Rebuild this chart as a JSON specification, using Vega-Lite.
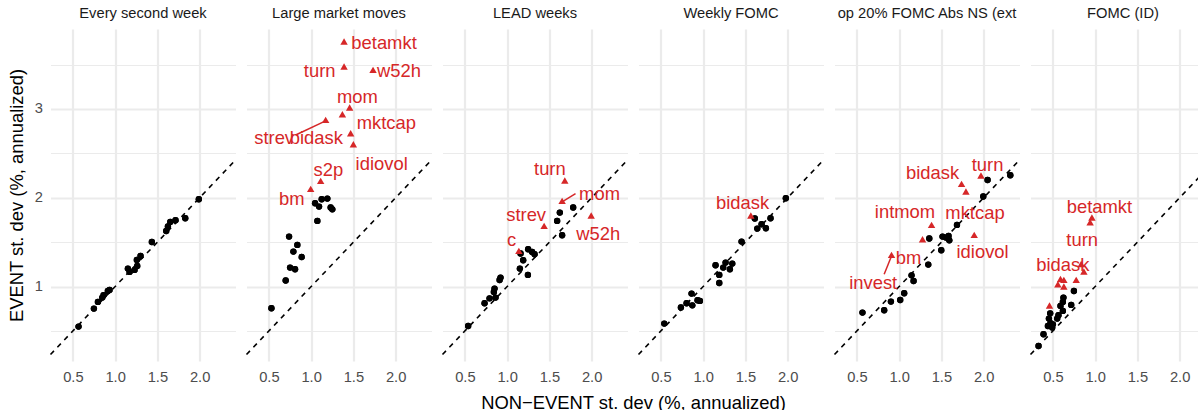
{
  "$schema": "https://vega.github.io/schema/vega-lite/v6.json",
  "background": "white",
  "padding": {"left": 6.5, "top": 6, "right": 0, "bottom": 0},
  "config": {
    "font": "Liberation Sans",
    "view": {"stroke": null},
    "axis": {
      "domain": false,
      "ticks": false,
      "gridColor": "#ebebeb",
      "labelFontSize": 14.7,
      "labelColor": "#4d4d4d",
      "titleFontSize": 18.4,
      "titleFontWeight": "normal",
      "titleColor": "#000000"
    }
  },
  "data": {
    "values": [
      {"panel": "Every second week", "group": "base", "x": 0.567, "y": 0.55},
      {"panel": "Every second week", "group": "base", "x": 0.749, "y": 0.752},
      {"panel": "Every second week", "group": "base", "x": 0.796, "y": 0.827},
      {"panel": "Every second week", "group": "base", "x": 0.848, "y": 0.876},
      {"panel": "Every second week", "group": "base", "x": 0.863, "y": 0.902},
      {"panel": "Every second week", "group": "base", "x": 0.914, "y": 0.95},
      {"panel": "Every second week", "group": "base", "x": 0.934, "y": 0.962},
      {"panel": "Every second week", "group": "base", "x": 1.151, "y": 1.203},
      {"panel": "Every second week", "group": "base", "x": 1.171, "y": 1.165},
      {"panel": "Every second week", "group": "base", "x": 1.23, "y": 1.187},
      {"panel": "Every second week", "group": "base", "x": 1.262, "y": 1.232},
      {"panel": "Every second week", "group": "base", "x": 1.257, "y": 1.3},
      {"panel": "Every second week", "group": "base", "x": 1.301, "y": 1.345},
      {"panel": "Every second week", "group": "base", "x": 1.435, "y": 1.502},
      {"panel": "Every second week", "group": "base", "x": 1.605, "y": 1.626},
      {"panel": "Every second week", "group": "base", "x": 1.625, "y": 1.676},
      {"panel": "Every second week", "group": "base", "x": 1.653, "y": 1.727},
      {"panel": "Every second week", "group": "base", "x": 1.715, "y": 1.747},
      {"panel": "Every second week", "group": "base", "x": 1.83, "y": 1.769},
      {"panel": "Every second week", "group": "base", "x": 1.991, "y": 1.983},

      {"panel": "Large market moves", "group": "base", "x": 0.53, "y": 0.756},
      {"panel": "Large market moves", "group": "base", "x": 0.699, "y": 1.068},
      {"panel": "Large market moves", "group": "base", "x": 0.751, "y": 1.214},
      {"panel": "Large market moves", "group": "base", "x": 0.81, "y": 1.195},
      {"panel": "Large market moves", "group": "base", "x": 0.79, "y": 1.394},
      {"panel": "Large market moves", "group": "base", "x": 0.739, "y": 1.563},
      {"panel": "Large market moves", "group": "base", "x": 0.837, "y": 1.469},
      {"panel": "Large market moves", "group": "base", "x": 0.888, "y": 1.333},
      {"panel": "Large market moves", "group": "base", "x": 1.074, "y": 1.739},
      {"panel": "Large market moves", "group": "base", "x": 1.047, "y": 1.938},
      {"panel": "Large market moves", "group": "base", "x": 1.094, "y": 1.901},
      {"panel": "Large market moves", "group": "base", "x": 1.125, "y": 1.983},
      {"panel": "Large market moves", "group": "base", "x": 1.192, "y": 1.991},
      {"panel": "Large market moves", "group": "base", "x": 1.231, "y": 1.89},
      {"panel": "Large market moves", "group": "base", "x": 1.251, "y": 1.87},
      {"panel": "Large market moves", "group": "flag", "x": 0.995, "y": 2.088, "name": "bm", "lx": 0.77, "ly": 1.983},
      {"panel": "Large market moves", "group": "flag", "x": 1.113, "y": 2.178, "name": "s2p", "lx": 1.204, "ly": 2.31},
      {"panel": "Large market moves", "group": "flag", "x": 1.172, "y": 2.865, "name": "strev", "lx": 0.562, "ly": 2.678, "sx": 0.817, "sy": 2.707},
      {"panel": "Large market moves", "group": "flag", "x": 1.37, "y": 2.929, "name": "bidask", "lx": 1.062, "ly": 2.678},
      {"panel": "Large market moves", "group": "flag", "x": 1.456, "y": 3.004, "name": "mom", "lx": 1.547, "ly": 3.135},
      {"panel": "Large market moves", "group": "flag", "x": 1.468, "y": 2.715, "name": "mktcap", "lx": 1.891, "ly": 2.839},
      {"panel": "Large market moves", "group": "flag", "x": 1.5, "y": 2.591, "name": "idiovol", "lx": 1.835, "ly": 2.385},
      {"panel": "Large market moves", "group": "flag", "x": 1.39, "y": 3.466, "name": "turn", "lx": 1.101, "ly": 3.428},
      {"panel": "Large market moves", "group": "flag", "x": 1.39, "y": 3.748, "name": "betamkt", "lx": 1.863, "ly": 3.74},
      {"panel": "Large market moves", "group": "flag", "x": 1.733, "y": 3.428, "name": "w52h", "lx": 2.041, "ly": 3.428},

      {"panel": "LEAD weeks", "group": "base", "x": 0.539, "y": 0.556},
      {"panel": "LEAD weeks", "group": "base", "x": 0.733, "y": 0.812},
      {"panel": "LEAD weeks", "group": "base", "x": 0.792, "y": 0.868},
      {"panel": "LEAD weeks", "group": "base", "x": 0.863, "y": 0.876},
      {"panel": "LEAD weeks", "group": "base", "x": 0.843, "y": 0.939},
      {"panel": "LEAD weeks", "group": "base", "x": 0.851, "y": 0.977},
      {"panel": "LEAD weeks", "group": "base", "x": 0.911, "y": 1.074},
      {"panel": "LEAD weeks", "group": "base", "x": 0.922, "y": 1.101},
      {"panel": "LEAD weeks", "group": "base", "x": 1.151, "y": 1.203},
      {"panel": "LEAD weeks", "group": "base", "x": 1.246, "y": 1.131},
      {"panel": "LEAD weeks", "group": "base", "x": 1.19, "y": 1.296},
      {"panel": "LEAD weeks", "group": "base", "x": 1.159, "y": 1.372},
      {"panel": "LEAD weeks", "group": "base", "x": 1.249, "y": 1.42},
      {"panel": "LEAD weeks", "group": "base", "x": 1.296, "y": 1.39},
      {"panel": "LEAD weeks", "group": "base", "x": 1.325, "y": 1.364},
      {"panel": "LEAD weeks", "group": "base", "x": 1.592, "y": 1.739},
      {"panel": "LEAD weeks", "group": "base", "x": 1.624, "y": 1.833},
      {"panel": "LEAD weeks", "group": "base", "x": 1.651, "y": 1.578},
      {"panel": "LEAD weeks", "group": "base", "x": 1.782, "y": 1.89},
      {"panel": "LEAD weeks", "group": "flag", "x": 1.139, "y": 1.39, "name": "c", "lx": 1.053, "ly": 1.525},
      {"panel": "LEAD weeks", "group": "flag", "x": 1.438, "y": 1.671, "name": "strev", "lx": 1.225, "ly": 1.803},
      {"panel": "LEAD weeks", "group": "flag", "x": 1.683, "y": 2.182, "name": "turn", "lx": 1.506, "ly": 2.329},
      {"panel": "LEAD weeks", "group": "flag", "x": 1.651, "y": 1.953, "name": "mom", "lx": 2.094, "ly": 2.039, "sx": 1.81, "sy": 2.047},
      {"panel": "LEAD weeks", "group": "flag", "x": 1.995, "y": 1.788, "name": "w52h", "lx": 2.078, "ly": 1.589},

      {"panel": "Weekly FOMC", "group": "base", "x": 0.54, "y": 0.583},
      {"panel": "Weekly FOMC", "group": "base", "x": 0.737, "y": 0.764},
      {"panel": "Weekly FOMC", "group": "base", "x": 0.804, "y": 0.812},
      {"panel": "Weekly FOMC", "group": "base", "x": 0.872, "y": 0.789},
      {"panel": "Weekly FOMC", "group": "base", "x": 0.863, "y": 0.921},
      {"panel": "Weekly FOMC", "group": "base", "x": 0.934, "y": 0.846},
      {"panel": "Weekly FOMC", "group": "base", "x": 0.962, "y": 0.838},
      {"panel": "Weekly FOMC", "group": "base", "x": 1.191, "y": 1.04},
      {"panel": "Weekly FOMC", "group": "base", "x": 1.191, "y": 1.131},
      {"panel": "Weekly FOMC", "group": "base", "x": 1.147, "y": 1.24},
      {"panel": "Weekly FOMC", "group": "base", "x": 1.238, "y": 1.214},
      {"panel": "Weekly FOMC", "group": "base", "x": 1.266, "y": 1.27},
      {"panel": "Weekly FOMC", "group": "base", "x": 1.317, "y": 1.195},
      {"panel": "Weekly FOMC", "group": "base", "x": 1.345, "y": 1.259},
      {"panel": "Weekly FOMC", "group": "base", "x": 1.455, "y": 1.507},
      {"panel": "Weekly FOMC", "group": "base", "x": 1.612, "y": 1.766},
      {"panel": "Weekly FOMC", "group": "base", "x": 1.641, "y": 1.653},
      {"panel": "Weekly FOMC", "group": "base", "x": 1.692, "y": 1.702},
      {"panel": "Weekly FOMC", "group": "base", "x": 1.743, "y": 1.657},
      {"panel": "Weekly FOMC", "group": "base", "x": 1.798, "y": 1.769},
      {"panel": "Weekly FOMC", "group": "base", "x": 1.979, "y": 1.994},
      {"panel": "Weekly FOMC", "group": "flag", "x": 1.565, "y": 1.788, "name": "bidask", "lx": 1.467, "ly": 1.946},

      {"panel": "op 20% FOMC Abs NS (ext", "group": "base", "x": 0.566, "y": 0.707},
      {"panel": "op 20% FOMC Abs NS (ext", "group": "base", "x": 0.823, "y": 0.733},
      {"panel": "op 20% FOMC Abs NS (ext", "group": "base", "x": 0.903, "y": 0.831},
      {"panel": "op 20% FOMC Abs NS (ext", "group": "base", "x": 1.013, "y": 0.849},
      {"panel": "op 20% FOMC Abs NS (ext", "group": "base", "x": 1.06, "y": 0.925},
      {"panel": "op 20% FOMC Abs NS (ext", "group": "base", "x": 1.147, "y": 1.127},
      {"panel": "op 20% FOMC Abs NS (ext", "group": "base", "x": 1.171, "y": 1.063},
      {"panel": "op 20% FOMC Abs NS (ext", "group": "base", "x": 1.345, "y": 1.248},
      {"panel": "op 20% FOMC Abs NS (ext", "group": "base", "x": 1.357, "y": 1.541},
      {"panel": "op 20% FOMC Abs NS (ext", "group": "base", "x": 1.499, "y": 1.409},
      {"panel": "op 20% FOMC Abs NS (ext", "group": "base", "x": 1.514, "y": 1.563},
      {"panel": "op 20% FOMC Abs NS (ext", "group": "base", "x": 1.554, "y": 1.552},
      {"panel": "op 20% FOMC Abs NS (ext", "group": "base", "x": 1.594, "y": 1.521},
      {"panel": "op 20% FOMC Abs NS (ext", "group": "base", "x": 1.585, "y": 1.57},
      {"panel": "op 20% FOMC Abs NS (ext", "group": "base", "x": 1.685, "y": 1.694},
      {"panel": "op 20% FOMC Abs NS (ext", "group": "base", "x": 1.996, "y": 2.014},
      {"panel": "op 20% FOMC Abs NS (ext", "group": "base", "x": 2.047, "y": 2.2},
      {"panel": "op 20% FOMC Abs NS (ext", "group": "base", "x": 2.316, "y": 2.253},
      {"panel": "op 20% FOMC Abs NS (ext", "group": "flag", "x": 1.277, "y": 1.521, "name": "bm", "lx": 1.111, "ly": 1.327},
      {"panel": "op 20% FOMC Abs NS (ext", "group": "flag", "x": 0.91, "y": 1.345, "name": "invest", "lx": 0.693, "ly": 1.045, "sx": 0.823, "sy": 1.139},
      {"panel": "op 20% FOMC Abs NS (ext", "group": "flag", "x": 1.384, "y": 1.683, "name": "intmom", "lx": 1.069, "ly": 1.845},
      {"panel": "op 20% FOMC Abs NS (ext", "group": "flag", "x": 1.739, "y": 2.144, "name": "bidask", "lx": 1.396, "ly": 2.284},
      {"panel": "op 20% FOMC Abs NS (ext", "group": "flag", "x": 1.791, "y": 2.059, "name": "mktcap", "lx": 1.898, "ly": 1.833},
      {"panel": "op 20% FOMC Abs NS (ext", "group": "flag", "x": 1.969, "y": 2.239, "name": "turn", "lx": 2.047, "ly": 2.369},
      {"panel": "op 20% FOMC Abs NS (ext", "group": "flag", "x": 1.889, "y": 1.57, "name": "idiovol", "lx": 1.988, "ly": 1.39},

      {"panel": "FOMC (ID)", "group": "base", "x": 0.33, "y": 0.331},
      {"panel": "FOMC (ID)", "group": "base", "x": 0.389, "y": 0.463},
      {"panel": "FOMC (ID)", "group": "base", "x": 0.441, "y": 0.556},
      {"panel": "FOMC (ID)", "group": "base", "x": 0.453, "y": 0.64},
      {"panel": "FOMC (ID)", "group": "base", "x": 0.468, "y": 0.699},
      {"panel": "FOMC (ID)", "group": "base", "x": 0.472, "y": 0.587},
      {"panel": "FOMC (ID)", "group": "base", "x": 0.492, "y": 0.538},
      {"panel": "FOMC (ID)", "group": "base", "x": 0.5, "y": 0.575},
      {"panel": "FOMC (ID)", "group": "base", "x": 0.551, "y": 0.64},
      {"panel": "FOMC (ID)", "group": "base", "x": 0.566, "y": 0.677},
      {"panel": "FOMC (ID)", "group": "base", "x": 0.59, "y": 0.782},
      {"panel": "FOMC (ID)", "group": "base", "x": 0.618, "y": 0.726},
      {"panel": "FOMC (ID)", "group": "base", "x": 0.618, "y": 0.827},
      {"panel": "FOMC (ID)", "group": "base", "x": 0.625, "y": 0.876},
      {"panel": "FOMC (ID)", "group": "base", "x": 0.717, "y": 0.793},
      {"panel": "FOMC (ID)", "group": "base", "x": 0.749, "y": 0.95},
      {"panel": "FOMC (ID)", "group": "flag", "x": 0.46, "y": 0.775},
      {"panel": "FOMC (ID)", "group": "flag", "x": 0.559, "y": 1.015},
      {"panel": "FOMC (ID)", "group": "flag", "x": 0.59, "y": 1.074},
      {"panel": "FOMC (ID)", "group": "flag", "x": 0.63, "y": 0.989},
      {"panel": "FOMC (ID)", "group": "flag", "x": 0.63, "y": 1.063},
      {"panel": "FOMC (ID)", "group": "flag", "x": 0.776, "y": 1.063},
      {"panel": "FOMC (ID)", "group": "flag", "x": 0.835, "y": 1.243, "name": "bidask", "lx": 0.618, "ly": 1.24},
      {"panel": "FOMC (ID)", "group": "flag", "x": 0.867, "y": 1.158},
      {"panel": "FOMC (ID)", "group": "flag", "x": 0.941, "y": 1.712, "name": "turn", "lx": 0.847, "ly": 1.521},
      {"panel": "FOMC (ID)", "group": "flag", "x": 0.962, "y": 1.766, "name": "betamkt", "lx": 1.051, "ly": 1.901}
    ]
  },
  "facet": {
    "column": {
      "field": "panel",
      "type": "nominal",
      "title": "NON−EVENT st. dev (%, annualized)",
      "sort": ["Every second week", "Large market moves", "LEAD weeks", "Weekly FOMC", "op 20% FOMC Abs NS (ext", "FOMC (ID)"],
      "header": {
        "labelOrient": "top",
        "labelFontSize": 14.7, "labelColor": "#1a1a1a", "labelPadding": 8, "labelLimit": 0, "labelFont": "Liberation Sans",
        "titleOrient": "bottom",
        "titleFontSize": 18.4, "titleFontWeight": "normal", "titleColor": "#000000", "titleFont": "Liberation Sans", "titlePadding": 0
      }
    }
  },
  "spacing": {"column": 9},
  "spec": {
    "width": 185,
    "height": 332,
    "layer": [
      {
        "transform": [{"filter": "datum.group == 'base'"}],
        "mark": {"type": "point", "shape": "circle", "filled": true, "color": "#000000", "opacity": 1, "size": 40},
        "encoding": {
          "x": {
            "field": "x", "type": "quantitative", "title": null,
            "scale": {"domain": [0.235, 2.425], "nice": false, "zero": false},
            "axis": {
              "title": null,
              "values": [0.5, 1, 1.5, 2],
              "format": ".1f",
              "gridWidth": 2.2,
              "labelOverlap": false,
              "labelPadding": 8
            }
          },
          "y": {
            "field": "y", "type": "quantitative", "title": "EVENT st. dev (%, annualized)",
            "scale": {"domain": [0.162, 3.9], "nice": false, "zero": false},
            "axis": {
              "values": [0.5, 1, 1.5, 2, 2.5, 3, 3.5],
              "labelExpr": "datum.value % 1 == 0 ? format(datum.value, 'd') : ''",
              "gridWidth": {"condition": {"test": "datum.value % 1 == 0", "value": 2.2}, "value": 1.1},
              "labelOverlap": "greedy",
              "labelPadding": 7,
              "titlePadding": 8
            }
          }
        }
      },
      {
        "transform": [{"aggregate": [{"op": "count", "as": "n"}], "groupby": ["panel"]}],
        "mark": {"type": "rule", "color": "#000000", "strokeWidth": 1.6, "strokeDash": [5, 5]},
        "encoding": {
          "x": {"datum": 0.235, "type": "quantitative", "title": null},
          "y": {"datum": 0.235, "type": "quantitative", "title": "EVENT st. dev (%, annualized)"},
          "x2": {"datum": 2.425},
          "y2": {"datum": 2.425}
        }
      },
      {
        "transform": [{"filter": "datum.group == 'base'"}],
        "mark": {"type": "point", "shape": "circle", "filled": true, "color": "#000000", "opacity": 1, "size": 40},
        "encoding": {
          "x": {"field": "x", "type": "quantitative", "title": null},
          "y": {"field": "y", "type": "quantitative", "title": "EVENT st. dev (%, annualized)"}
        }
      },
      {
        "transform": [{"filter": "isValid(datum.sx)"}],
        "mark": {"type": "rule", "color": "#D62728", "strokeWidth": 1.5},
        "encoding": {
          "x": {"field": "sx", "type": "quantitative", "title": null},
          "y": {"field": "sy", "type": "quantitative", "title": "EVENT st. dev (%, annualized)"},
          "x2": {"field": "x"},
          "y2": {"field": "y"}
        }
      },
      {
        "transform": [{"filter": "datum.group == 'flag'"}],
        "mark": {"type": "point", "shape": "triangle", "filled": true, "color": "#D62728", "opacity": 1, "size": 55},
        "encoding": {
          "x": {"field": "x", "type": "quantitative", "title": null},
          "y": {"field": "y", "type": "quantitative", "title": "EVENT st. dev (%, annualized)"}
        }
      },
      {
        "transform": [{"filter": "isValid(datum.name)"}],
        "mark": {"type": "text", "color": "#D62728", "fontSize": 18.4, "align": "center", "baseline": "middle"},
        "encoding": {
          "x": {"field": "lx", "type": "quantitative", "title": null},
          "y": {"field": "ly", "type": "quantitative", "title": "EVENT st. dev (%, annualized)"},
          "text": {"field": "name", "type": "nominal"}
        }
      }
    ]
  }
}
